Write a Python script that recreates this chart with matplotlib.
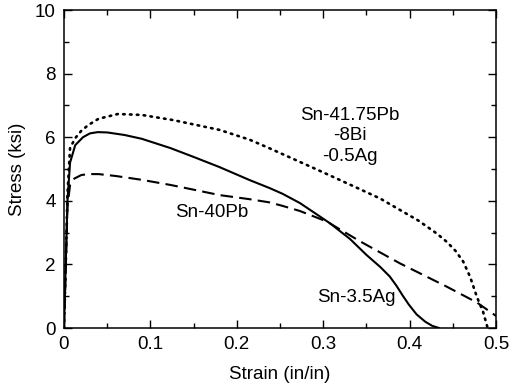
import matplotlib
matplotlib.use("Agg")
import matplotlib.pyplot as plt
from matplotlib.ticker import MultipleLocator

plt.rcParams['font.family'] = ['Liberation Sans', 'DejaVu Sans']

# Sn-3.5Ag (solid)
ag_strain = [0, 0.002, 0.004, 0.007, 0.013, 0.022, 0.03, 0.039, 0.05, 0.07, 0.09,
             0.123, 0.15, 0.18, 0.215, 0.238, 0.253, 0.273, 0.29, 0.308, 0.331,
             0.35, 0.366, 0.377, 0.385, 0.392, 0.399, 0.408, 0.418, 0.426, 0.434]
ag_stress = [0, 2.0, 4.0, 5.2, 5.75, 6.0, 6.12, 6.16, 6.15, 6.07, 5.95,
             5.66, 5.38, 5.06, 4.65, 4.4, 4.22, 3.93, 3.62, 3.29, 2.8,
             2.3, 1.92, 1.62, 1.32, 1.02, 0.74, 0.43, 0.2, 0.07, 0.0]

# Sn-40Pb (dashed)
pb_strain = [0, 0.002, 0.004, 0.007, 0.012, 0.02, 0.028, 0.04, 0.06, 0.09, 0.123,
             0.15, 0.18, 0.215, 0.238, 0.253, 0.273, 0.304, 0.343, 0.389, 0.443,
             0.478, 0.5]
pb_stress = [0, 1.8, 3.8, 4.5, 4.7, 4.81, 4.84, 4.84, 4.78, 4.66, 4.5,
             4.35, 4.18, 4.05, 3.95, 3.84, 3.68, 3.35, 2.72, 2.03, 1.3,
             0.8, 0.38]

# Sn-41.75Pb-8Bi-0.5Ag (dotted)
bi_strain = [0, 0.002, 0.004, 0.007, 0.013, 0.02, 0.028, 0.04, 0.0625, 0.09, 0.126,
             0.18, 0.215, 0.238, 0.293, 0.343, 0.366, 0.389, 0.41, 0.431, 0.443,
             0.453, 0.462, 0.47, 0.478, 0.485, 0.49]
bi_stress = [0, 2.0, 4.2, 5.66, 5.97, 6.2, 6.38, 6.58, 6.73, 6.7, 6.54,
             6.23, 5.92, 5.65, 4.98, 4.36, 4.07, 3.71, 3.38, 2.98, 2.71,
             2.43, 2.09, 1.61, 0.97, 0.51, 0.03]

fig = plt.figure(figsize=(5.25, 3.91), dpi=100)
ax = fig.add_axes([0.1219, 0.1611, 0.8229, 0.8133])

ax.plot(bi_strain, bi_stress, color='black', lw=1.9, linestyle=(0, (0.6, 2.0)),
        dash_capstyle='round')
ax.plot(ag_strain, ag_stress, color='black', lw=1.5)
ax.plot(pb_strain, pb_stress, color='black', lw=1.5, linestyle=(0, (6, 3)))

fs = 13.5
ax.text(0.331, 6.04, "Sn-41.75Pb\n-8Bi\n-0.5Ag", ha='center', va='center',
        fontsize=fs, linespacing=1.25)
ax.text(0.171, 3.62, "Sn-40Pb", ha='center', va='center', fontsize=fs)
ax.text(0.338, 0.97, "Sn-3.5Ag", ha='center', va='center', fontsize=fs)

ax.set_xlim(0, 0.5)
ax.set_ylim(0, 10)
ax.set_xticks([0, 0.1, 0.2, 0.3, 0.4, 0.5])
ax.set_xticklabels(['0', '0.1', '0.2', '0.3', '0.4', '0.5'])
ax.xaxis.set_minor_locator(MultipleLocator(0.05))
ax.yaxis.set_major_locator(MultipleLocator(2))
ax.yaxis.set_minor_locator(MultipleLocator(1))
ax.tick_params(which='both', direction='in', top=True, right=True, labelsize=fs, width=1)
ax.tick_params(which='major', length=6, pad=6)
ax.tick_params(which='minor', length=3.5)
for s in ax.spines.values():
    s.set_linewidth(1.1)

ax.set_xlabel("Strain (in/in)", fontsize=fs, labelpad=9)
ax.set_ylabel("Stress (ksi)", fontsize=fs, labelpad=6)

fig.savefig("out.png", dpi=100)
